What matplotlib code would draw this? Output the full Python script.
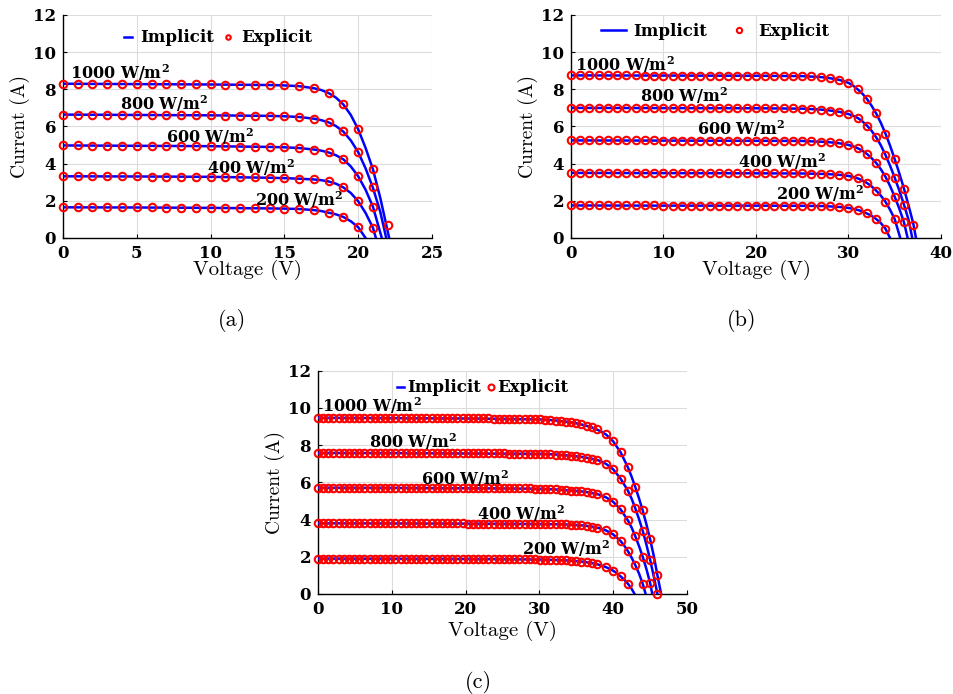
"""I-V curves of three PV modules: implicit (line) vs explicit (markers) solution."""

import matplotlib
matplotlib.use('Agg')
import matplotlib.pyplot as plt
from matplotlib.lines import Line2D

### DATA ###
IRRADIANCE = ['1000', '800', '600', '400', '200']

# ---- panel (a) ----
A_LINE_V = [
    [0, 5, 10, 14, 15, 16, 17, 17.5, 18, 18.5, 19, 19.5, 20, 20.5, 21, 21.5, 22.1],
    [0, 5, 10, 14, 15, 16, 17, 17.5, 18, 18.5, 19, 19.5, 20, 20.5, 21, 21.5, 21.9],
    [0, 5, 10, 14, 15, 16, 17, 17.5, 18, 18.5, 19, 19.5, 20, 20.5, 21, 21.6],
    [0, 5, 10, 14, 15, 16, 17, 17.5, 18, 18.5, 19, 19.5, 20, 20.5, 21, 21.2],
    [0, 5, 10, 14, 15, 16, 17, 17.5, 18, 18.5, 19, 19.5, 20, 20.5],
]
A_LINE_I = [
    [8.30, 8.28, 8.26, 8.23, 8.21, 8.17, 8.06, 7.96, 7.80, 7.55, 7.18, 6.62, 5.85, 4.85, 3.70, 2.15, 0.0],
    [6.64, 6.62, 6.60, 6.57, 6.55, 6.51, 6.42, 6.34, 6.22, 6.02, 5.72, 5.25, 4.62, 3.75, 2.70, 1.40, 0.0],
    [4.98, 4.96, 4.94, 4.90, 4.88, 4.84, 4.76, 4.70, 4.60, 4.45, 4.23, 3.85, 3.32, 2.60, 1.68, 0.0],
    [3.32, 3.31, 3.29, 3.24, 3.22, 3.19, 3.15, 3.11, 3.04, 2.92, 2.72, 2.42, 1.98, 1.35, 0.55, 0.0],
    [1.65, 1.64, 1.62, 1.59, 1.58, 1.56, 1.50, 1.45, 1.36, 1.27, 1.13, 0.90, 0.58, 0.0],
]
# explicit points at 0, 1, 2, ... V
A_MARK_I = [
    [8.30, 8.30, 8.29, 8.29, 8.28, 8.28, 8.27, 8.27, 8.26, 8.26, 8.26, 8.25, 8.25, 8.24, 8.23, 8.22,
     8.19, 8.07, 7.81, 7.19, 5.84, 3.72, 0.70],
    [6.64, 6.64, 6.63, 6.63, 6.62, 6.62, 6.62, 6.61, 6.61, 6.60, 6.60, 6.59, 6.59, 6.58, 6.57, 6.56,
     6.52, 6.41, 6.23, 5.73, 4.62, 2.72],
    [4.98, 4.98, 4.97, 4.97, 4.97, 4.96, 4.96, 4.95, 4.95, 4.94, 4.94, 4.93, 4.92, 4.91, 4.90, 4.88,
     4.85, 4.76, 4.60, 4.24, 3.31, 1.67],
    [3.32, 3.32, 3.32, 3.31, 3.31, 3.31, 3.30, 3.30, 3.30, 3.29, 3.29, 3.28, 3.27, 3.26, 3.24, 3.22,
     3.19, 3.15, 3.05, 2.72, 1.98, 0.54],
    [1.65, 1.65, 1.65, 1.65, 1.64, 1.64, 1.64, 1.63, 1.63, 1.63, 1.62, 1.62, 1.61, 1.60, 1.59, 1.58,
     1.56, 1.49, 1.35, 1.13, 0.59],
]

# ---- panel (b) ----
B_LINE_V = [
    [0, 10, 20, 25, 27, 28, 29, 30, 30.5, 31, 31.5, 32, 32.5, 33, 33.5, 34, 34.5, 35, 35.5, 36, 36.5, 37, 37.3],
    [0, 10, 20, 25, 27, 28, 29, 30, 30.5, 31, 31.5, 32, 32.5, 33, 33.5, 34, 34.5, 35, 35.5, 36, 36.5, 36.9],
    [0, 10, 20, 25, 27, 28, 29, 30, 30.5, 31, 31.5, 32, 32.5, 33, 33.5, 34, 34.5, 35, 35.5, 36, 36.4],
    [0, 10, 20, 25, 27, 28, 29, 30, 30.5, 31, 31.5, 32, 32.5, 33, 33.5, 34, 34.5, 35, 35.6],
    [0, 10, 20, 25, 27, 28, 29, 30, 30.5, 31, 31.5, 32, 32.5, 33, 33.5, 34, 34.5],
]
B_LINE_I = [
    [8.75, 8.74, 8.73, 8.71, 8.66, 8.60, 8.51, 8.35, 8.20, 8.00, 7.77, 7.48, 7.12, 6.70, 6.20, 5.62,
     4.97, 4.24, 3.48, 2.66, 1.75, 0.80, 0.0],
    [7.00, 6.99, 6.98, 6.96, 6.91, 6.86, 6.79, 6.67, 6.58, 6.46, 6.28, 6.05, 5.77, 5.42, 4.99, 4.47,
     3.89, 3.25, 2.55, 1.80, 0.98, 0.0],
    [5.25, 5.24, 5.23, 5.22, 5.18, 5.15, 5.10, 5.01, 4.93, 4.83, 4.70, 4.52, 4.30, 4.04, 3.70, 3.30,
     2.80, 2.22, 1.58, 0.85, 0.0],
    [3.50, 3.49, 3.48, 3.47, 3.45, 3.43, 3.40, 3.34, 3.28, 3.21, 3.10, 2.96, 2.78, 2.55, 2.28, 1.95,
     1.52, 1.02, 0.0],
    [1.75, 1.74, 1.74, 1.73, 1.72, 1.70, 1.67, 1.62, 1.57, 1.51, 1.43, 1.32, 1.19, 1.02, 0.80, 0.50, 0.0],
]
B_MARK_I = [
    [8.75, 8.75, 8.75, 8.75, 8.75, 8.75, 8.75, 8.75, 8.74, 8.74, 8.74, 8.74, 8.74, 8.74, 8.74, 8.74,
     8.73, 8.73, 8.73, 8.73, 8.73, 8.73, 8.72, 8.72, 8.72, 8.71, 8.69, 8.66, 8.60, 8.51, 8.35, 8.00,
     7.48, 6.70, 5.62, 4.24, 2.66, 0.68],
    [7.00, 7.00, 7.00, 7.00, 7.00, 7.00, 7.00, 7.00, 7.00, 7.00, 6.99, 6.99, 6.99, 6.99, 6.99, 6.99,
     6.99, 6.99, 6.99, 6.99, 6.98, 6.98, 6.98, 6.98, 6.98, 6.96, 6.94, 6.91, 6.86, 6.79, 6.67, 6.46,
     6.05, 5.42, 4.47, 3.25, 1.80],
    [5.25, 5.25, 5.25, 5.25, 5.25, 5.25, 5.25, 5.25, 5.25, 5.25, 5.24, 5.24, 5.24, 5.24, 5.24, 5.24,
     5.24, 5.24, 5.24, 5.24, 5.23, 5.23, 5.23, 5.23, 5.23, 5.22, 5.20, 5.18, 5.15, 5.10, 5.01, 4.83,
     4.52, 4.04, 3.30, 2.22, 0.85],
    [3.50, 3.50, 3.50, 3.50, 3.50, 3.50, 3.50, 3.50, 3.50, 3.50, 3.49, 3.49, 3.49, 3.49, 3.49, 3.49,
     3.49, 3.49, 3.49, 3.49, 3.48, 3.48, 3.48, 3.48, 3.48, 3.47, 3.46, 3.45, 3.43, 3.40, 3.34, 3.21,
     2.96, 2.55, 1.95, 1.02],
    [1.75, 1.75, 1.75, 1.75, 1.75, 1.75, 1.75, 1.75, 1.75, 1.75, 1.74, 1.74, 1.74, 1.74, 1.74, 1.74,
     1.74, 1.74, 1.74, 1.74, 1.74, 1.74, 1.74, 1.74, 1.74, 1.73, 1.72, 1.72, 1.70, 1.67, 1.62, 1.51,
     1.32, 1.02, 0.50],
]

# ---- panel (c) ----
C_LINE_V = [
    [0, 10, 20, 25, 30, 31, 32, 33, 34, 35, 36, 37, 38, 39, 40, 41, 42, 42.5, 43, 43.5, 44, 44.5, 45,
     45.5, 46, 46.5],
    [0, 10, 20, 25, 30, 31, 32, 33, 34, 35, 36, 37, 38, 39, 40, 41, 42, 42.5, 43, 43.5, 44, 44.5, 45,
     45.5, 46],
    [0, 10, 20, 25, 30, 32, 33, 34, 35, 36, 37, 38, 39, 40, 41, 42, 42.5, 43, 43.5, 44, 44.5, 45, 45.3],
    [0, 10, 20, 25, 30, 32, 34, 35, 36, 37, 38, 39, 40, 41, 41.5, 42, 42.5, 43, 43.5, 44, 44.4],
    [0, 10, 20, 25, 30, 32, 34, 35, 36, 37, 38, 39, 40, 40.5, 41, 41.5, 42, 42.5, 42.9],
]
C_LINE_I = [
    [9.47, 9.45, 9.43, 9.41, 9.38, 9.36, 9.33, 9.29, 9.24, 9.17, 9.08, 8.97, 8.80, 8.58, 8.20, 7.62,
     6.80, 6.30, 5.74, 5.14, 4.49, 3.75, 2.95, 2.05, 1.00, 0.0],
    [7.58, 7.57, 7.55, 7.54, 7.53, 7.52, 7.50, 7.47, 7.44, 7.40, 7.35, 7.28, 7.18, 7.00, 6.70, 6.20,
     5.55, 5.12, 4.60, 4.03, 3.40, 2.66, 1.85, 0.95, 0.0],
    [5.71, 5.70, 5.68, 5.67, 5.65, 5.62, 5.60, 5.57, 5.54, 5.50, 5.44, 5.35, 5.20, 4.95, 4.55, 3.95,
     3.57, 3.10, 2.58, 2.00, 1.35, 0.60, 0.0],
    [3.80, 3.79, 3.78, 3.77, 3.76, 3.75, 3.73, 3.71, 3.68, 3.63, 3.55, 3.42, 3.20, 2.85, 2.60, 2.30,
     1.95, 1.55, 1.10, 0.55, 0.0],
    [1.90, 1.89, 1.88, 1.87, 1.85, 1.83, 1.80, 1.77, 1.73, 1.67, 1.58, 1.45, 1.25, 1.12, 0.95, 0.77,
     0.55, 0.28, 0.0],
]
# explicit sample voltages of panel (c): finer spacing on the plateau, 1 V in the knee
C_MARK_V = [
    0.0, 0.7, 1.4, 2.1, 2.8, 3.5, 4.2, 4.9, 5.6, 6.3, 7.0,
    7.7, 8.4, 9.1, 9.8, 10.5, 11.2, 11.9, 12.6, 13.3, 14.0, 14.7,
    15.4, 16.1, 16.8, 17.5, 18.2, 18.9, 19.6, 20.3, 21.0, 21.7, 22.4,
    23.1, 23.8, 24.5, 25.2, 25.9, 26.6, 27.3, 28.0, 28.7, 29.4, 30.1,
    30.8, 31.5, 32.2, 32.9, 33.6, 34.3, 35.0, 35.7, 36.4, 37.1, 37.8,
    39, 40, 41, 42, 43, 44, 45, 46,
]
C_MARK_I = [
    [9.47, 9.47, 9.47, 9.47, 9.47, 9.47, 9.46, 9.46, 9.46, 9.46, 9.46,
     9.46, 9.46, 9.46, 9.45, 9.45, 9.45, 9.45, 9.45, 9.45, 9.45, 9.44,
     9.44, 9.44, 9.44, 9.44, 9.44, 9.44, 9.43, 9.43, 9.43, 9.43, 9.43,
     9.43, 9.42, 9.42, 9.42, 9.42, 9.42, 9.40, 9.40, 9.39, 9.38, 9.38,
     9.36, 9.35, 9.32, 9.29, 9.26, 9.22, 9.17, 9.11, 9.04, 8.95, 8.84,
     8.58, 8.20, 7.62, 6.80, 5.74, 4.49, 2.95, 1.00],
    [7.58, 7.58, 7.58, 7.58, 7.58, 7.58, 7.58, 7.58, 7.58, 7.58, 7.57,
     7.57, 7.57, 7.57, 7.57, 7.57, 7.57, 7.57, 7.57, 7.57, 7.56, 7.56,
     7.56, 7.56, 7.56, 7.56, 7.56, 7.56, 7.56, 7.55, 7.55, 7.55, 7.55,
     7.55, 7.55, 7.55, 7.55, 7.54, 7.54, 7.54, 7.54, 7.54, 7.54, 7.53,
     7.52, 7.51, 7.49, 7.47, 7.45, 7.43, 7.40, 7.36, 7.32, 7.27, 7.20,
     7.00, 6.70, 6.20, 5.55, 4.60, 3.40, 1.85, 0.00],
    [5.71, 5.71, 5.71, 5.71, 5.71, 5.71, 5.71, 5.71, 5.71, 5.71, 5.70,
     5.70, 5.70, 5.70, 5.70, 5.70, 5.70, 5.70, 5.70, 5.70, 5.70, 5.70,
     5.69, 5.69, 5.69, 5.69, 5.69, 5.69, 5.69, 5.69, 5.68, 5.68, 5.68,
     5.68, 5.68, 5.68, 5.68, 5.67, 5.67, 5.67, 5.67, 5.67, 5.66, 5.65,
     5.64, 5.63, 5.62, 5.60, 5.58, 5.56, 5.54, 5.51, 5.48, 5.43, 5.37,
     5.20, 4.95, 4.55, 3.95, 3.10, 2.00, 0.60],
    [3.80, 3.80, 3.80, 3.80, 3.80, 3.80, 3.80, 3.80, 3.80, 3.80, 3.80,
     3.80, 3.80, 3.80, 3.79, 3.79, 3.79, 3.79, 3.79, 3.79, 3.79, 3.79,
     3.79, 3.79, 3.79, 3.79, 3.79, 3.79, 3.79, 3.78, 3.78, 3.78, 3.78,
     3.78, 3.78, 3.78, 3.78, 3.78, 3.78, 3.77, 3.77, 3.77, 3.77, 3.77,
     3.76, 3.76, 3.75, 3.74, 3.74, 3.73, 3.71, 3.69, 3.66, 3.62, 3.57,
     3.42, 3.20, 2.85, 2.30, 1.55, 0.55],
    [1.90, 1.90, 1.90, 1.90, 1.90, 1.90, 1.90, 1.90, 1.90, 1.90, 1.90,
     1.90, 1.90, 1.90, 1.89, 1.89, 1.89, 1.89, 1.89, 1.89, 1.89, 1.89,
     1.89, 1.89, 1.89, 1.89, 1.89, 1.89, 1.89, 1.88, 1.88, 1.88, 1.88,
     1.88, 1.88, 1.88, 1.88, 1.87, 1.87, 1.87, 1.87, 1.87, 1.86, 1.85,
     1.84, 1.84, 1.83, 1.82, 1.81, 1.79, 1.77, 1.74, 1.71, 1.66, 1.60,
     1.45, 1.25, 0.95, 0.55],
]
##############

# layout
BOLD_FONT = 'DejaVu Serif'
LABEL_FONT = 'cmr10'
LINE_COLOR = '#0000ff'
MARK_COLOR = '#ff0000'
MARK_SIZE = 5.4

plt.rcParams['font.family'] = BOLD_FONT
plt.rcParams['font.weight'] = 'bold'
plt.rcParams['mathtext.fontset'] = 'dejavuserif'
plt.rcParams['mathtext.default'] = 'bf'


def draw_panel(ax, line_v, line_i, mark_v, mark_i, xmax, xstep, text_pos, leg_pos, leg_kw):
    """Draws one I-V panel: implicit curves as lines, explicit points as open circles"""
    for v, i in zip(line_v, line_i):
        ax.plot(v, i, color=LINE_COLOR, lw=1.8, solid_joinstyle='round', zorder=3)
    for i in mark_i:
        ax.plot(mark_v[:len(i)], i, ls='none', marker='o', ms=MARK_SIZE, mfc='none',
                mec=MARK_COLOR, mew=1.5, zorder=4, clip_on=False)

    for name, (x, y) in zip(IRRADIANCE, text_pos):
        ax.text(x, y, name + r' W/m$^2$', fontsize=11.5, fontweight='bold',
                ha='left', va='baseline', zorder=5)

    ax.set_xlim(0, xmax)
    ax.set_ylim(0, 12)
    ax.set_xticks(range(0, xmax + 1, xstep))
    ax.set_yticks(range(0, 13, 2))
    ax.tick_params(direction='in', length=3, width=0.8, labelsize=12, pad=5)
    ax.grid(True, color='#dcdcdc', lw=0.8)
    ax.set_axisbelow(True)
    for side in ['top', 'right']:
        ax.spines[side].set_visible(False)
    for side in ['left', 'bottom']:
        ax.spines[side].set_linewidth(1.0)

    ax.set_xlabel('Voltage (V)', fontfamily=LABEL_FONT, fontweight='normal', fontsize=15)
    ax.set_ylabel('Current (A)', fontfamily=LABEL_FONT, fontweight='normal', fontsize=14)
    ax.yaxis.set_label_coords(-0.09, 0.5)

    handles = [Line2D([], [], color=LINE_COLOR, lw=1.8),
               Line2D([], [], ls='none', marker='o', ms=MARK_SIZE, mfc='none', mec=MARK_COLOR, mew=1.5)]
    ax.legend(handles, ['Implicit', 'Explicit'], loc='center', bbox_to_anchor=leg_pos,
              ncol=2, frameon=False, prop={'family': BOLD_FONT, 'weight': 'bold', 'size': 12},
              borderpad=0, **leg_kw)


fig = plt.figure(figsize=(9.54, 6.94), dpi=100)
ax_a = fig.add_axes([0.0660, 0.6571, 0.3868, 0.3213])
ax_b = fig.add_axes([0.5985, 0.6571, 0.3878, 0.3213])
ax_c = fig.add_axes([0.3333, 0.1441, 0.3868, 0.3218])

draw_panel(ax_a, A_LINE_V, A_LINE_I, list(range(30)), A_MARK_I, 25, 5,
           [(0.5, 8.55), (3.85, 6.88), (6.95, 5.12), (9.73, 3.43), (12.99, 1.73)],
           (0.42, 0.897), dict(handlelength=0.5, handletextpad=0.5, columnspacing=0.6, markerscale=0.6))
draw_panel(ax_b, B_LINE_V, B_LINE_I, list(range(40)), B_MARK_I, 40, 10,
           [(0.4, 8.98), (7.46, 7.33), (13.6, 5.53), (18.1, 3.79), (22.2, 2.03)],
           (0.39, 0.928), dict(handlelength=1.5, handletextpad=0.4, columnspacing=1.2, markerscale=0.7))
draw_panel(ax_c, C_LINE_V, C_LINE_I, C_MARK_V, C_MARK_I, 50, 10,
           [(0.54, 9.80), (6.86, 7.83), (13.95, 5.86), (21.6, 3.98), (27.6, 2.10)],
           (0.447, 0.923), dict(handlelength=0.4, handletextpad=0.2, columnspacing=0.4, markerscale=0.8))

ax_a.xaxis.set_label_coords(0.5, -0.10)
ax_b.xaxis.set_label_coords(0.5, -0.10)
ax_c.xaxis.set_label_coords(0.5, -0.12)

for label, x, y in [('(a)', 232, 320), ('(b)', 742, 320), ('(c)', 478, 683)]:
    fig.text(x / 954, 1 - y / 694, label, fontfamily=LABEL_FONT, fontweight='normal',
             fontsize=16, ha='center', va='center')

fig.savefig('out.png', dpi=100, facecolor='white')
